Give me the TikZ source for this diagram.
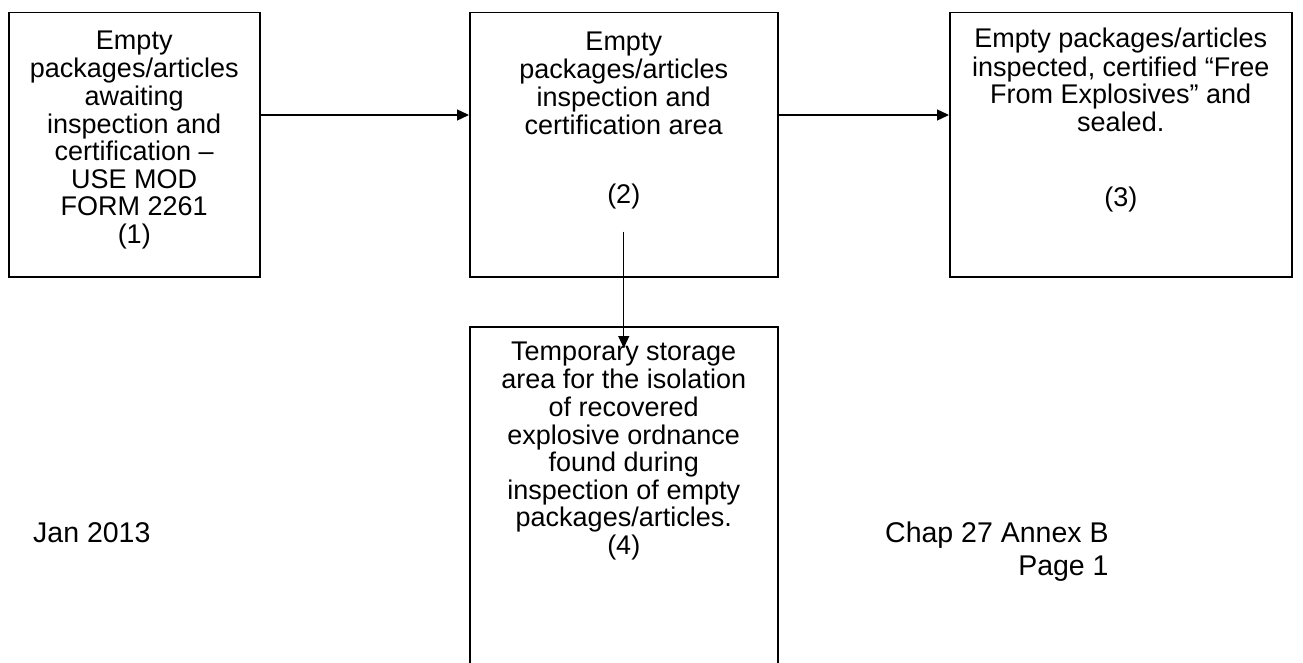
\documentclass[tikz,border=0pt]{standalone}
\usepackage{fontspec}
\setmainfont{Liberation Sans}
\usetikzlibrary{arrows.meta,calc}
\begin{document}
\begin{tikzpicture}[x=1pt,y=-1pt,
  box/.style={draw, line width=1.5pt, anchor=north west, inner sep=0pt},
  txt/.style={anchor=north, inner sep=0pt, align=center, font=\fontsize{27}{27.6}\selectfont},
  foot/.style={inner sep=0pt, font=\fontsize{28.5}{33}\selectfont},
  arr/.style={line width=1.3pt, -{Triangle[length=12pt,width=11pt]}}
]
\fill[white] (0,0) rectangle (1303,663);
\useasboundingbox (0,0) rectangle (1303,663);

\node[box, minimum width=251pt, minimum height=264pt] (b1) at (8,12) {};
\node[box, minimum width=308pt, minimum height=264pt] (b2) at (469,12) {};
\node[box, minimum width=342pt, minimum height=264pt] (b3) at (949,12) {};
\node[box, minimum width=308pt, minimum height=360pt] (b4) at (469,326) {};

\node[txt] (t1) at ($(b1.north)+(0,17.5)$) {\strut Empty\\packages/articles\\awaiting\\inspection and\\certification --\\USE MOD\\FORM 2261\\(1)};
\node[txt] (t2) at ($(b2.north)+(0,18.5)$) {\strut Empty\\packages/articles\\inspection and\\certification area\\[42pt](2)};
\node[txt] (t3) at ($(b3.north)+(0,15.5)$) {\strut Empty packages/articles\\inspected, certified “Free\\From Explosives” and\\sealed.\\[48pt](3)};
\node[txt] (t4) at ($(b4.north)+(0,14.5)$) {\strut Temporary storage\\area for the isolation\\of recovered\\explosive ordnance\\found during\\inspection of empty\\packages/articles.\\(4)};

\draw[arr] (b1.east |- 0,115) -- (b2.west |- 0,115);
\draw[arr] (b2.east |- 0,115) -- (b3.west |- 0,115);
\coordinate (vs) at ($(b2.south)+(0,-46)$);
\coordinate (ve) at ($(b4.north)+(0,22)$);
\draw[arr] (vs) -- (ve);

\node[foot, anchor=base west] (jan) at (33,542) {Jan 2013};
\node[foot, anchor=base west] (chap) at (885,542) {Chap 27 Annex B};
\node[foot, anchor=base east] (page) at (chap.base east |- 0,575) {Page 1};
\end{tikzpicture}
\end{document}
